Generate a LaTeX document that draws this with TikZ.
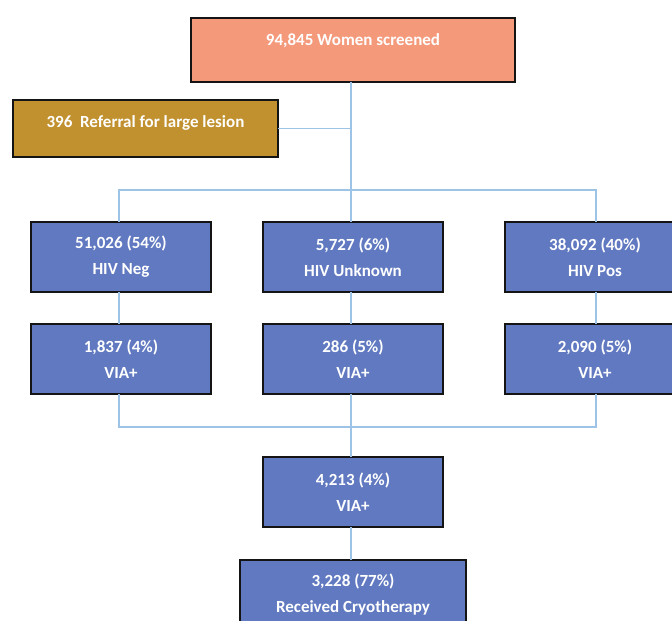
\documentclass[tikz,border=0pt]{standalone}
\usepackage{fontspec}
\setmainfont{Carlito}
\usepackage{tikz}
\usetikzlibrary{positioning,calc}
\definecolor{salmon}{HTML}{F5997B}
\definecolor{ochre}{HTML}{C0912E}
\definecolor{boxblue}{HTML}{6079C0}
\definecolor{linkblue}{HTML}{9DC3E6}
\definecolor{edge}{HTML}{141414}
\tikzset{
  flowbox/.style={rectangle,draw=edge,line width=1.3pt,fill=boxblue,
    text=white,align=center,font=\bfseries\fontsize{17}{26}\selectfont,
    minimum width=180pt,minimum height=70pt,inner sep=3pt,outer sep=0pt},
  screenbox/.style={flowbox,fill=salmon,minimum width=324pt,minimum height=64pt,
    text depth=20pt},
  lesionbox/.style={flowbox,fill=ochre,minimum width=265pt,minimum height=57pt,
    text height=12pt,text depth=15pt},
  link/.style={line width=1.2pt,color=linkblue},
}
\begin{document}
\begin{tikzpicture}[x=1pt,y=-1pt, node distance=32pt and 52pt]
  \useasboundingbox (0,0) rectangle (672,621);

  \node[screenbox] (scr) at (353,50) {94,845 Women screened};
  \node[lesionbox] (les) at (145.5,128.5) {396\ \ Referral for large lesion};

  \node[flowbox, below=140pt of scr] (unk) {5,727 (6\%)\\HIV Unknown};
  \node[flowbox, left=of unk] (neg) {51,026 (54\%)\\HIV Neg};
  \node[flowbox, right=62pt of unk] (pos) {38,092 (40\%)\\HIV Pos};

  \node[flowbox, below=of neg] (negvia) {1,837 (4\%)\\VIA+};
  \node[flowbox, below=of unk] (unkvia) {286 (5\%)\\VIA+};
  \node[flowbox, below=of pos] (posvia) {2,090 (5\%)\\VIA+};

  \node[flowbox, below=63pt of unkvia] (tot) {4,213 (4\%)\\VIA+};
  \node[flowbox, minimum width=226pt, below=33pt of tot] (cryo) {3,228 (77\%)\\Received Cryotherapy};

  \coordinate (split) at ($(scr.south)+(-2,108)$);
  \coordinate (join) at ($(unkvia.south)+(-2,33)$);

  \draw[link] (scr.south -| split) -- (split);
  \draw[link] (les.east) -- (les.east -| split);
  \draw[link] ([xshift=-2pt]neg.north) |- (split) -| ([xshift=1pt]pos.north);
  \draw[link] (split) -- (split |- unk.north);
  \draw[link] ([xshift=-2pt]neg.south) -- ([xshift=-2pt]negvia.north);
  \draw[link] (split |- unk.south) -- (split |- unkvia.north);
  \draw[link] ([xshift=1pt]pos.south) -- ([xshift=1pt]posvia.north);
  \draw[link] ([xshift=-2pt]negvia.south) |- (join) -| ([xshift=1pt]posvia.south);
  \draw[link] (split |- unkvia.south) -- (split |- tot.north);
  \draw[link] (split |- tot.south) -- (split |- cryo.north);
\end{tikzpicture}
\end{document}
